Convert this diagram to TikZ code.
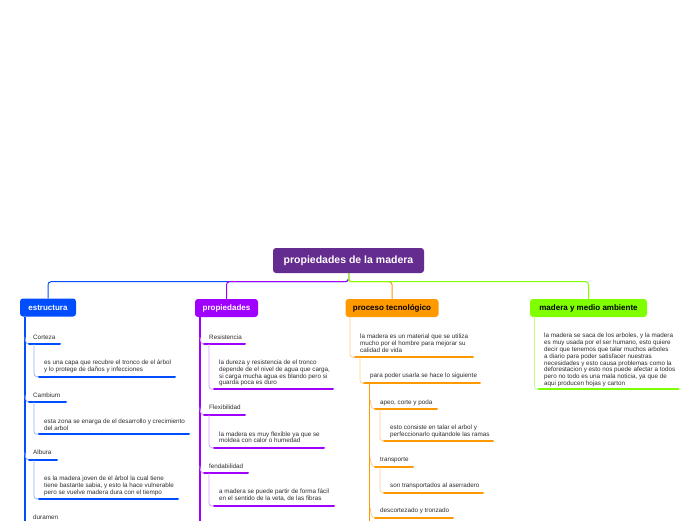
\documentclass[tikz,border=0pt]{standalone}
\usepackage{fontspec}
\setmainfont{Liberation Sans}
\definecolor{rootc}{RGB}{101,44,143}
\definecolor{bl}{RGB}{0,76,255}
\definecolor{blL}{RGB}{150,180,255}
\definecolor{pu}{RGB}{160,0,255}
\definecolor{puL}{RGB}{215,160,255}
\definecolor{orc}{RGB}{255,153,0}
\definecolor{orL}{RGB}{255,205,140}
\definecolor{grc}{RGB}{128,255,0}
\definecolor{grL}{RGB}{195,255,140}
\definecolor{txt}{RGB}{45,45,45}
\begin{document}
\begin{tikzpicture}[x=1pt,y=-1pt,
  mainbox/.style={rounded corners=3pt, inner sep=0pt, minimum height=18pt, font=\fontsize{8}{9}\selectfont\bfseries},
  lbl/.style={anchor=west, inner sep=0pt, font=\fontsize{6.3}{6.9}\selectfont, text=txt, align=left},
  uline/.style={line width=2pt, line cap=round},
  trunk/.style={line width=1.2pt},
  twig/.style={line width=0.8pt, rounded corners=3pt},
  link/.style={line width=1pt, rounded corners=3pt}]
\clip (0,0) rectangle (696,520);
\fill[white] (0,0) rectangle (696,520);

% ---- main nodes
\node[mainbox, fill=rootc, text=white, minimum width=151pt, minimum height=25pt, font=\fontsize{10.5}{12}\selectfont\bfseries] (root) at (348.5,260.5) {propiedades de la madera};
\node[mainbox, fill=bl, text=white, minimum width=56pt] (est) at (48,307.5) {estructura};
\node[mainbox, fill=pu, text=white, minimum width=63pt] (prop) at (226.5,308) {propiedades};
\node[mainbox, fill=orc, text=black, minimum width=93pt] (proc) at (392,308) {proceso tecnológico};
\node[mainbox, fill=grc, text=black, minimum width=117pt] (mad) at (588.5,308) {madera y medio ambiente};

% ---- root connectors
\draw[bl, link] (root.south) -- ++(0,8.5) -| (est.north);
\draw[pu, link] (root.south) -- ++(0,8.5) -| (prop.north);
\draw[orc, link] (root.south) -- ++(0,8.5) -| (proc.north);
\draw[grc, link] (root.south) -- ++(0,8.5) -| (mad.north);

% ================= estructura
\coordinate (estT) at (25,316.5);
\coordinate (estE) at (25,530);
\draw[bl, trunk] (estT) -- (estE);

\node[lbl] (cort) at (33,337) {Corteza};
\coordinate (cortJ) at (25,337); \coordinate (cortA) at (29,344); \coordinate (cortB) at (60,344);
\draw[blL, twig] (cortJ) to[out=-90,in=180] (cortA);
\draw[bl, uline] (cortA) -- (cortB);
\node[lbl] (cortc) at (44,366.3) {es una capa que recubre el tronco de el árbol\\y lo protege de daños y infecciones};
\coordinate (cortcA) at (39,376.7); \coordinate (cortcB) at (175,376.7);
\draw[blL, twig] ([xshift=5pt]cortA) |- (cortcA);
\draw[bl, uline] (cortcA) -- (cortcB);

\node[lbl] (camb) at (33,395) {Cambium};
\coordinate (cambJ) at (25,395); \coordinate (cambA) at (29,402); \coordinate (cambB) at (66,402);
\draw[blL, twig] (cambJ) to[out=-90,in=180] (cambA);
\draw[bl, uline] (cambA) -- (cambB);
\node[lbl] (cambc) at (44,424.7) {esta zona se enarga de el desarrollo y crecimiento\\del arbol};
\coordinate (cambcA) at (39,434.3); \coordinate (cambcB) at (189,434.3);
\draw[blL, twig] ([xshift=5pt]cambA) |- (cambcA);
\draw[bl, uline] (cambcA) -- (cambcB);

\node[lbl] (alb) at (33,452.3) {Albura};
\coordinate (albJ) at (25,452.3); \coordinate (albA) at (29,460); \coordinate (albB) at (57,460);
\draw[blL, twig] (albJ) to[out=-90,in=180] (albA);
\draw[bl, uline] (albA) -- (albB);
\node[lbl] (albc) at (44,485.5) {es la madera joven de el árbol la cual tiene\\tiene bastante sabia, y esto la hace vulnerable\\pero se vuelve madera dura con el tiempo};
\coordinate (albcA) at (39,499); \coordinate (albcB) at (178,499);
\draw[blL, twig] ([xshift=5pt]albA) |- (albcA);
\draw[bl, uline] (albcA) -- (albcB);

\node[lbl] (dur) at (33,517.3) {duramen};

% ================= propiedades
\coordinate (propT) at (200,317);
\coordinate (propE) at (200,530);
\draw[pu, trunk] (propT) -- (propE);

\node[lbl] (res) at (209,337.3) {Resistencia};
\coordinate (resJ) at (200,337.3); \coordinate (resA) at (204,344); \coordinate (resB) at (245,344);
\draw[puL, twig] (resJ) to[out=-90,in=180] (resA);
\draw[pu, uline] (resA) -- (resB);
\node[lbl] (resc) at (219,373) {la dureza y resistencia de el tronco\\depende de el nivel de agua que carga,\\si carga mucha agua es blando pero si\\guarda poca es duro};
\coordinate (rescA) at (214,389.3); \coordinate (rescB) at (333,389.3);
\draw[puL, twig] ([xshift=5pt]resA) |- (rescA);
\draw[pu, uline] (rescA) -- (rescB);

\node[lbl] (flex) at (209,407.3) {Flexibilidad};
\coordinate (flexJ) at (200,407.3); \coordinate (flexA) at (204,415); \coordinate (flexB) at (245,415);
\draw[puL, twig] (flexJ) to[out=-90,in=180] (flexA);
\draw[pu, uline] (flexA) -- (flexB);
\node[lbl] (flexc) at (219,437.2) {la madera es muy flexible ya que se\\moldea con calor o humedad};
\coordinate (flexcA) at (214,447.7); \coordinate (flexcB) at (324,447.7);
\draw[puL, twig] ([xshift=5pt]flexA) |- (flexcA);
\draw[pu, uline] (flexcA) -- (flexcB);

\node[lbl] (fend) at (209,466) {fendabilidad};
\coordinate (fendJ) at (200,466); \coordinate (fendA) at (204,473.3); \coordinate (fendB) at (248,473.3);
\draw[puL, twig] (fendJ) to[out=-90,in=180] (fendA);
\draw[pu, uline] (fendA) -- (fendB);
\node[lbl] (fendc) at (219,495) {a madera se puede partir de forma fácil\\en el sentido de la veta, de las fibras};
\coordinate (fendcA) at (214,506); \coordinate (fendcB) at (334,506);
\draw[puL, twig] ([xshift=5pt]fendA) |- (fendcA);
\draw[pu, uline] (fendcA) -- (fendcB);

% ================= proceso tecnologico
\coordinate (procT) at (350,317);
\node[lbl] (mat) at (360,343.5) {la madera es un material que se utiliza\\mucho por el hombre para mejorar su\\calidad de vida};
\coordinate (matA) at (355,357.3); \coordinate (matB) at (473,357.3);
\draw[orL, twig] (procT) |- (matA);
\draw[orc, uline] (matA) -- (matB);

\node[lbl] (usar) at (370,376) {para poder usarla se hace lo siguiente};
\coordinate (usarA) at (364,383.3); \coordinate (usarB) at (480,383.3);
\draw[orL, twig] ([xshift=5pt]matA) |- (usarA);
\draw[orc, uline] (usarA) -- (usarB);

\coordinate (usarT) at (369.5,383.3);
\coordinate (usarE) at (369.5,530);
\draw[orc, trunk] (usarT) -- (usarE);

\node[lbl] (apeo) at (380,402.7) {apeo, corte y poda};
\coordinate (apeoJ) at (370.5,400); \coordinate (apeoA) at (375,409); \coordinate (apeoB) at (437,409);
\draw[orL, twig] (apeoJ) to[out=-90,in=180] (apeoA);
\draw[orc, uline] (apeoA) -- (apeoB);
\node[lbl] (apeoc) at (390,431.2) {esto consiste en talar el arbol y\\perfeccionarlo quitandole las ramas};
\coordinate (apeocA) at (384,441); \coordinate (apeocB) at (493,441);
\draw[orL, twig] ([xshift=5pt]apeoA) |- (apeocA);
\draw[orc, uline] (apeocA) -- (apeocB);

\node[lbl] (trans) at (380,460) {transporte};
\coordinate (transJ) at (370.5,458); \coordinate (transA) at (375,466.7); \coordinate (transB) at (413,466.7);
\draw[orL, twig] (transJ) to[out=-90,in=180] (transA);
\draw[orc, uline] (transA) -- (transB);
\node[lbl] (transc) at (390,486) {son transportados al aserradero};
\coordinate (transcA) at (384,492.7); \coordinate (transcB) at (483,492.7);
\draw[orL, twig] ([xshift=5pt]transA) |- (transcA);
\draw[orc, uline] (transcA) -- (transcB);

\node[lbl] (desc) at (380,510.7) {descortezado y tronzado};
\coordinate (descJ) at (370.5,508); \coordinate (descA) at (375,517.7); \coordinate (descB) at (453,517.7);
\draw[orL, twig] (descJ) to[out=-90,in=180] (descA);
\draw[orc, uline] (descA) -- (descB);

% ================= madera y medio ambiente
\coordinate (madT) at (534.5,316.5);
\node[lbl] (madc) at (544,360) {la madera se saca de los arboles, y la madera\\es muy usada por el ser humano, esto quiere\\decir que tenemos que talar muchos arboles\\a diario para poder satisfacer nuestras\\necesidades y esto causa problemas como la\\deforestacion y esto nos puede afectar a todos\\pero no todo es una mala noticia, ya que de\\aqui producen hojas y carton};
\coordinate (madcA) at (538.5,389); \coordinate (madcB) at (678.5,389);
\draw[grL, twig] (madT) |- (madcA);
\draw[grc, uline] (madcA) -- (madcB);
\end{tikzpicture}
\end{document}
